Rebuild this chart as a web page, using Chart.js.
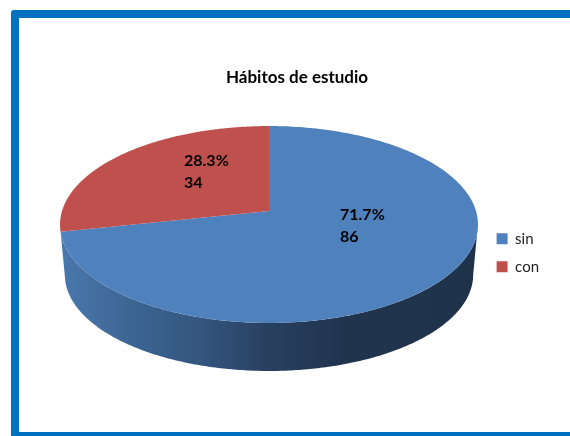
<!DOCTYPE html>
<html>
<head>
<meta charset="utf-8">
<title>Hábitos de estudio</title>
<script src="https://cdn.jsdelivr.net/npm/chart.js@4"></script>
<style>
  html, body { margin: 0; background: #fff; overflow: hidden; }
  #page { position: relative; width: 570px; height: 436px; overflow: hidden; }
  #frame { position: absolute; left: 11px; top: 10px; width: 700px; height: 414px; border: 8px solid #0070c0; border-radius: 3px; }
  canvas { position: absolute; left: 0; top: 0; }
</style>
</head>
<body>
<div id="page">
  <div id="frame"></div>
  <canvas id="pieChart" width="570" height="436"></canvas>
</div>
<script>
const categories = ['sin', 'con'];
const students = [86, 34];
const sliceColors = ['#4f81bd', '#c0504d'];
const chartTitle = 'Hábitos de estudio';

// where each label's first line starts
const labelSpots = [[340, 220], [184, 166]];
const labelFont = 'bold 16px Lato';

// tilted disc: circle -> picture, with perspective (k)
const k = 0.137;
function project(angle, top) {
  const X = Math.cos(angle), Y = Math.sin(angle);
  const w = 1 - k * Y;
  const s = top ? 1 : 0.977;
  const cy = top ? 211 : 261.6;
  return [269 + s * 207 * X / w, cy + s * 96.6 * Y / w];
}

function tracePath(ctx, from, to, top, moveFirst) {
  const steps = 240;
  for (let i = 0; i <= steps; i++) {
    const a = from + (to - from) * i / steps;
    const p = project(a, top);
    if (i === 0 && moveFirst) ctx.moveTo(p[0], p[1]);
    else ctx.lineTo(p[0], p[1]);
  }
}

const disc3d = {
  id: 'disc3d',
  beforeDatasetsDraw(chart) {
    const ctx = chart.ctx;
    const arcs = chart.getDatasetMeta(0).data;
    const tip = Math.asin(k);

    // side wall, only for slices facing us
    arcs.forEach(arc => {
      const mid = (arc.startAngle + arc.endAngle) / 2;
      if (Math.sin(mid) < 0) return;
      const from = Math.max(arc.startAngle, tip);
      const to = Math.min(arc.endAngle, Math.PI - tip);
      const grad = ctx.createLinearGradient(61, 0, 478, 0);
      grad.addColorStop(0, '#4a78ad');
      grad.addColorStop(0.17, '#3c6592');
      grad.addColorStop(0.34, '#34557e');
      grad.addColorStop(0.5, '#283f60');
      grad.addColorStop(0.68, '#20344e');
      grad.addColorStop(1, '#1e324a');
      ctx.beginPath();
      tracePath(ctx, from, to, true, true);
      tracePath(ctx, to, from, false, false);
      ctx.closePath();
      ctx.fillStyle = grad;
      ctx.fill();
    });

    // top face
    arcs.forEach((arc, i) => {
      ctx.beginPath();
      ctx.moveTo(269, 211);
      tracePath(ctx, arc.startAngle, arc.endAngle, true, false);
      ctx.closePath();
      ctx.fillStyle = sliceColors[i];
      ctx.fill();
    });

    // labels
    const total = students.reduce((a, b) => a + b, 0);
    ctx.fillStyle = '#000';
    ctx.font = labelFont;
    ctx.textAlign = 'left';
    ctx.textBaseline = 'alphabetic';
    students.forEach((v, i) => {
      const spot = labelSpots[i];
      ctx.fillText((v / total * 100).toFixed(1) + '%', spot[0], spot[1]);
      ctx.fillText(String(v), spot[0], spot[1] + 22);
    });
    return false;
  }
};

new Chart(document.getElementById('pieChart'), {
  type: 'pie',
  data: {
    labels: categories,
    datasets: [{ data: students, backgroundColor: sliceColors, borderWidth: 0 }]
  },
  options: {
    responsive: false,
    animation: false,
    layout: { padding: { top: 67, left: 45, right: 21, bottom: 22 } },
    plugins: {
      title: {
        display: true,
        text: chartTitle,
        color: '#000',
        font: { family: 'Lato', size: 17, weight: 'bold' },
        padding: { top: 0, bottom: 4 }
      },
      legend: {
        position: 'right',
        fullSize: false,
        labels: {
          boxWidth: 11,
          boxHeight: 11,
          padding: 13,
          color: '#222',
          font: { family: 'Lato', size: 15 }
        }
      },
      tooltip: { enabled: false }
    }
  },
  plugins: [disc3d]
});
</script>
</body>
</html>
